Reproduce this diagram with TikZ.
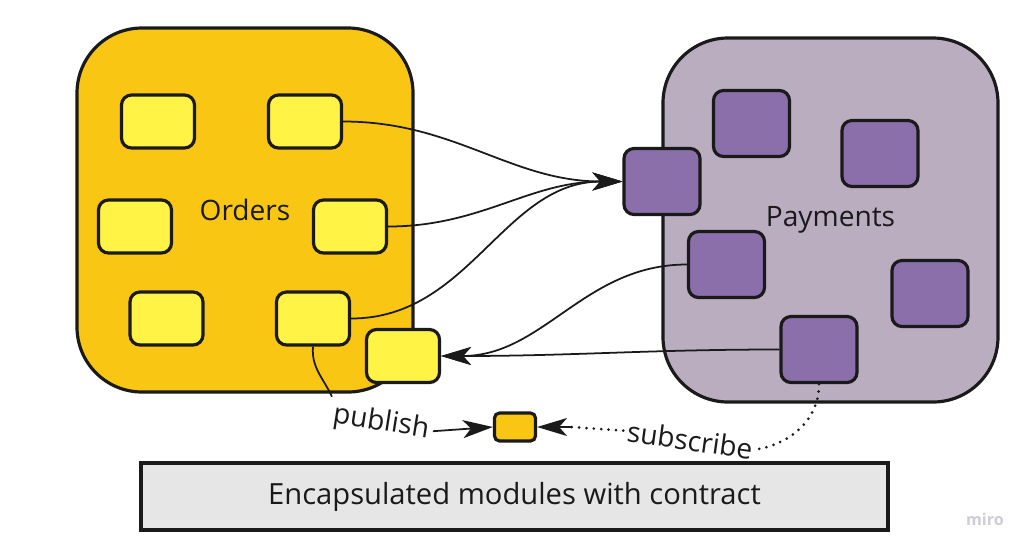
\documentclass[tikz,border=0pt]{standalone}
\usepackage{fontspec}
\setmainfont{Open Sans}
\usetikzlibrary{arrows.meta}
\definecolor{ordfill}{HTML}{F9C613}
\definecolor{ordbox}{HTML}{FFF345}
\definecolor{payfill}{HTML}{B9ADBF}
\definecolor{paybox}{HTML}{8A6FAB}
\definecolor{edge}{HTML}{1A1A1A}
\definecolor{bannerfill}{HTML}{E6E6E6}
\definecolor{mirogrey}{HTML}{CDCDD4}
\tikzset{
  module/.style={draw=edge, line width=0.9pt, rounded corners=0.65cm, text=edge, font=\fontsize{8}{10}\selectfont},
  ybox/.style={draw=edge, line width=0.9pt, rounded corners=0.1cm, fill=ordbox, minimum width=0.73cm, minimum height=0.53cm, inner sep=0pt},
  pbox/.style={draw=edge, line width=0.9pt, rounded corners=0.1cm, fill=paybox, minimum width=0.76cm, minimum height=0.66cm, inner sep=0pt},
  link/.style={draw=edge, line width=0.5pt, -{Stealth[length=3mm,width=1.8mm,inset=0.8mm]}},
  dots/.style={draw=edge, line width=0.85pt, line cap=round, dash pattern=on 0pt off 2.1pt},
  tag/.style={text=edge, font=\fontsize{8}{10}\selectfont, inner sep=1pt}
}
\begin{document}
\begin{tikzpicture}
  \useasboundingbox (0,0) rectangle (10.24,-5.48);
  % the two modules
  \node (orders) at (2.45,-2.10)[module, fill=ordfill, minimum width=3.36cm, minimum height=3.64cm]{Orders};
  \node (payments) at (8.305,-2.20)[module, fill=payfill, minimum width=3.35cm, minimum height=3.64cm]{Payments};
  % orders internals
  \node (y1) at (1.58,-1.215)[ybox]{};
  \node (y2) at (3.05,-1.215)[ybox]{};
  \node (y3) at (1.35,-2.265)[ybox]{};
  \node (y4) at (3.50,-2.265)[ybox]{};
  \node (y5) at (1.665,-3.185)[ybox]{};
  \node (y6) at (3.13,-3.185)[ybox]{};
  \node (y7) at (4.03,-3.56)[ybox]{};
  % payments internals
  \node (p1) at (7.515,-1.235)[pbox]{};
  \node (p2) at (8.80,-1.535)[pbox]{};
  \node (p3) at (6.62,-1.815)[pbox]{};
  \node (p4) at (7.265,-2.645)[pbox]{};
  \node (p5) at (9.30,-2.935)[pbox]{};
  \node (p6) at (8.19,-3.495)[pbox]{};
  % event
  \node (ev) at (5.15,-4.27)[draw=edge, line width=0.9pt, rounded corners=0.05cm, fill=ordfill, minimum width=0.41cm, minimum height=0.28cm, inner sep=0pt]{};
  \node (pub) at (3.81,-4.23)[tag, rotate=-9]{publish};
  \node (sub) at (6.90,-4.40)[tag, rotate=-8]{subscribe};
  % calls into payments
  \draw [link] (y2.east) to[out=0,in=180] (p3.west);
  \draw [link] (y4.east) to[out=0,in=180] (p3.west);
  \draw [link] (y6.east) to[out=0,in=180] (p3.west);
  % calls into orders
  \draw [link] (p4.west) to[out=180,in=0] (y7.east);
  \draw [link] (p6.west) to[out=180,in=0] (y7.east);
  % publish / subscribe
  \draw [draw=edge, line width=0.5pt] (y6.south) to[out=-95,in=115] (pub.north west);
  \draw [link] (pub.east) -- (ev.west);
  \draw [dots] (p6.south) to[out=-90,in=10] (sub.east);
  \draw [dots] (sub.west) -- ([xshift=3.4mm]ev.east);
  \draw [link] ([xshift=3.4mm]ev.east) -- (ev.east);
  % caption
  \node (caption) at (5.145,-4.965)[draw=edge, line width=0.9pt, fill=bannerfill, minimum width=7.47cm, minimum height=0.67cm, text=edge, font=\fontsize{8.3}{10}\selectfont]{Encapsulated modules with contract};
  \node (miro) at (9.85,-5.19)[text=mirogrey, font=\fontsize{4.6}{6}\selectfont\bfseries]{miro};
\end{tikzpicture}
\end{document}
